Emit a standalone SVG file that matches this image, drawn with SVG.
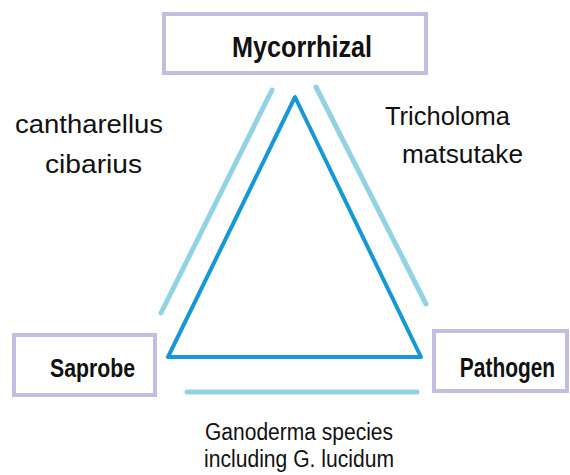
<svg xmlns="http://www.w3.org/2000/svg" width="570" height="475" viewBox="0 0 570 475">
<style>
.box{fill:#fff;stroke:#c5bce2;stroke-width:4}
.lbl{font-family:"Liberation Sans",Arial,sans-serif;font-weight:bold;fill:#111;text-anchor:middle}
.txt{font-family:"Liberation Sans",Arial,sans-serif;fill:#111;text-anchor:middle}
.lite{stroke:#93d2e4;stroke-width:5;stroke-linecap:round;fill:none}
.tri{stroke:#1798d6;stroke-width:4;fill:none;stroke-linejoin:round}
</style>
<rect width="570" height="475" fill="#fff"/>
<g id="connectors">
<polygon class="tri" points="295,97 168,357 421,357"/>
<line class="lite" x1="272" y1="90" x2="161" y2="313"/>
<line class="lite" x1="316" y1="87" x2="426" y2="304"/>
<line class="lite" x1="187" y1="392" x2="417" y2="392"/>
</g>
<g id="mycorrhizal">
<rect class="box" x="164" y="14" width="262" height="59"/>
<text class="lbl" x="302" y="57" font-size="30" textLength="140" lengthAdjust="spacingAndGlyphs">Mycorrhizal</text>
</g>
<g id="saprobe">
<rect class="box" x="14" y="335" width="141" height="60"/>
<text class="lbl" x="92.5" y="377" font-size="26" textLength="85" lengthAdjust="spacingAndGlyphs">Saprobe</text>
</g>
<g id="pathogen">
<rect class="box" x="434" y="331" width="133" height="60"/>
<text class="lbl" transform="translate(507.5,377) scale(0.775,1)" x="0" y="0" font-size="27">Pathogen</text>
</g>
<g id="labels">
<text class="txt" x="89" y="133" font-size="26" textLength="148" lengthAdjust="spacingAndGlyphs">cantharellus</text>
<text class="txt" x="93.5" y="173" font-size="26" textLength="97" lengthAdjust="spacingAndGlyphs">cibarius</text>
<text class="txt" x="447.5" y="125" font-size="26" textLength="125" lengthAdjust="spacingAndGlyphs">Tricholoma</text>
<text class="txt" x="462.5" y="163" font-size="26" textLength="121" lengthAdjust="spacingAndGlyphs">matsutake</text>
<text class="txt" x="299" y="440" font-size="23" textLength="188" lengthAdjust="spacingAndGlyphs">Ganoderma species</text>
<text class="txt" x="299" y="467" font-size="23" textLength="190" lengthAdjust="spacingAndGlyphs">including G. lucidum</text>
</g>
</svg>
